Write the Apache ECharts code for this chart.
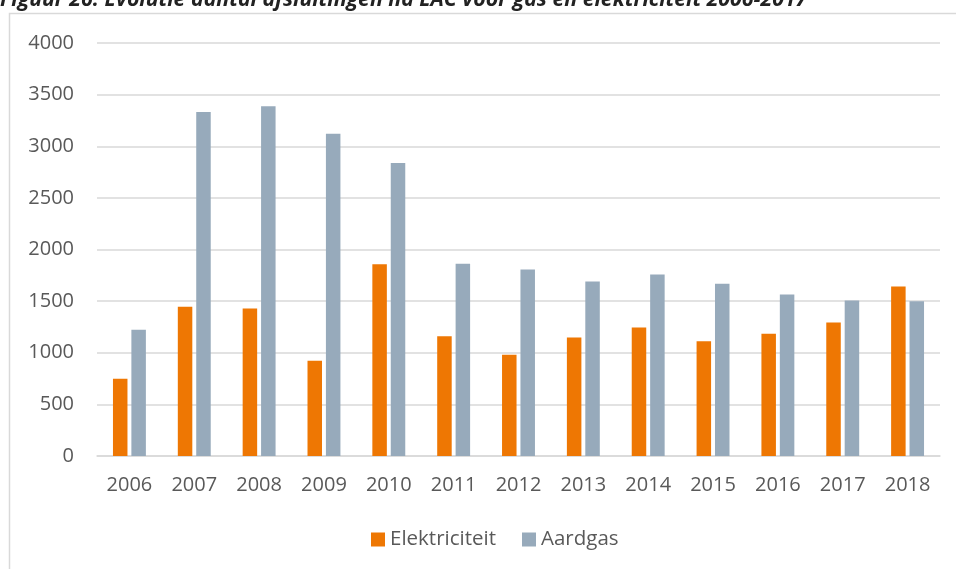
<!DOCTYPE html>
<html style="height: 100%">
<head>
  <meta charset="utf-8">
  <script src="https://cdn.jsdelivr.net/npm/echarts@6/dist/echarts.min.js"></script>
</head>
<body style="height: 100%; margin: 0; background: #fff">
  <div id="container" style="width: 956px; height: 569px;"></div>
  <script type="text/javascript">
    var years = ['2006', '2007', '2008', '2009', '2010', '2011', '2012', '2013', '2014', '2015', '2016', '2017', '2018'];
    var elektriciteit = [748, 1446, 1429, 922, 1856, 1161, 981, 1148, 1245, 1112, 1184, 1294, 1642];
    var aardgas = [1223, 3331, 3387, 3122, 2837, 1862, 1807, 1691, 1759, 1668, 1565, 1507, 1500];
    var seriesNames = ['Elektriciteit', 'Aardgas'];

    var myChart = echarts.init(document.getElementById('container'));
    var textColor = '#595959';
    var font = '"Open Sans", "Noto Sans", sans-serif';

    var option = {
      animation: false,
      backgroundColor: '#fff',
      graphic: [
        {
          type: 'rect',
          shape: { x: 9.5, y: 13.5, width: 960, height: 600 },
          style: { fill: 'none', stroke: '#d9d9d9', lineWidth: 1.5 }
        },
        {
          type: 'text',
          left: 0,
          top: -11,
          style: {
            text: 'Figuur 26: Evolutie aantal afsluitingen na LAC voor gas en elektriciteit 2006-2017',
            font: 'italic bold 21.3px "Open Sans", "Noto Sans", sans-serif',
            fill: '#222'
          }
        }
      ],
      grid: { left: 97, right: 16, top: 43, bottom: 113 },
      legend: {
        bottom: 14,
        left: 366,
        itemWidth: 14,
        itemHeight: 14,
        itemGap: 26,
        icon: 'rect',
        textStyle: { color: textColor, fontSize: 20.5, fontFamily: font },
        data: seriesNames
      },
      xAxis: {
        type: 'category',
        data: years,
        axisLine: { lineStyle: { color: '#d9d9d9', width: 1.5 } },
        axisTick: { show: false },
        axisLabel: { color: textColor, fontSize: 20, fontFamily: font, margin: 19 }
      },
      yAxis: {
        type: 'value',
        min: 0,
        max: 4000,
        interval: 500,
        axisLine: { show: false },
        axisTick: { show: false },
        splitLine: { lineStyle: { color: '#d9d9d9', width: 1.5 } },
        axisLabel: {
          color: textColor, fontSize: 20, fontFamily: font, margin: 23,
          formatter: function (v) { return String(v); }
        }
      },
      series: [
        {
          name: seriesNames[0],
          type: 'bar',
          data: elektriciteit,
          barWidth: 14.5,
          barGap: '27%',
          itemStyle: { color: '#EE7703' }
        },
        {
          name: seriesNames[1],
          type: 'bar',
          data: aardgas,
          barWidth: 14.5,
          itemStyle: { color: '#97AABB' }
        }
      ]
    };
    myChart.setOption(option, true);
  </script>
</body>
</html>
